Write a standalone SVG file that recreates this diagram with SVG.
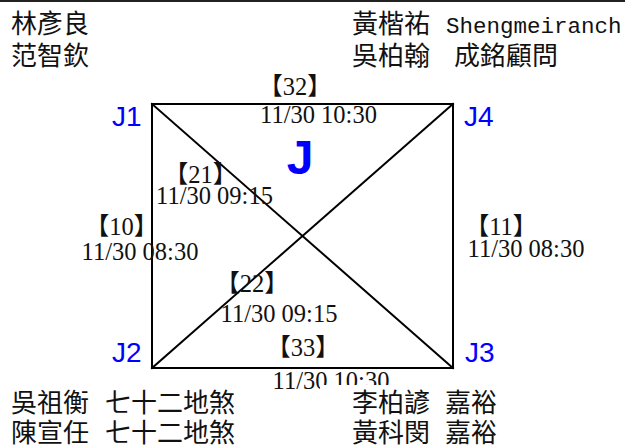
<svg xmlns="http://www.w3.org/2000/svg" width="625" height="447" viewBox="0 0 625 447">
<style>
.bg{fill:#ffffff}
.edge{stroke:#000;stroke-width:2;fill:none;stroke-linecap:square}
.node{font-family:"Liberation Sans",Arial,sans-serif;font-size:28px;fill:#0000ff}
.big{font-family:"Liberation Sans",Arial,sans-serif;font-size:48px;font-weight:bold;fill:#0000ff}
.lbl{font-family:"Liberation Serif","Noto Sans CJK TC",serif;font-size:24.5px;fill:#111;text-anchor:middle}
.name{font-family:"Noto Sans CJK TC","Noto Sans CJK SC",sans-serif;font-size:26px;fill:#111}
.mono{font-family:"Liberation Mono","Noto Sans CJK TC",monospace;font-size:22.5px}
</style>
<rect class="bg" x="0" y="0" width="625" height="447"/>
<line x1="0" y1="1" x2="625" y2="1" stroke="#222" stroke-width="2"/>

<g id="connectors">
  <line class="edge" x1="152" y1="104" x2="453" y2="104"/>
  <line class="edge" x1="152" y1="104" x2="152" y2="368"/>
  <line class="edge" x1="453" y1="104" x2="453" y2="368"/>
  <line class="edge" x1="152" y1="368" x2="453" y2="368"/>
  <line class="edge" x1="152" y1="104" x2="453" y2="368"/>
  <line class="edge" x1="152" y1="368" x2="453" y2="104"/>
</g>

<g id="edge-labels">
  <text class="lbl" x="295" y="95">【32】</text>
  <text class="lbl" x="318.5" y="123">11/30 10:30</text>
  <text class="lbl" x="200.5" y="183">【21】</text>
  <text class="lbl" x="214.5" y="204">11/30 09:15</text>
  <text class="lbl" x="121.5" y="235">【10】</text>
  <text class="lbl" x="140" y="260">11/30 08:30</text>
  <text class="lbl" x="501" y="235">【11】</text>
  <text class="lbl" x="526" y="257">11/30 08:30</text>
  <text class="lbl" x="252" y="292">【22】</text>
  <text class="lbl" x="279" y="322">11/30 09:15</text>
  <text class="lbl" x="303" y="356">【33】</text>
  <text class="lbl" x="331" y="389">11/30 10:30</text>
</g>

<g id="J">
  <text class="big" x="300" y="174" text-anchor="middle">J</text>
</g>
<g id="J1"><text class="node" x="112" y="126">J1</text></g>
<g id="J4"><text class="node" x="464" y="126">J4</text></g>
<g id="J2"><text class="node" x="112" y="362">J2</text></g>
<g id="J3"><text class="node" x="465" y="362">J3</text></g>

<g id="names-top-left">
  <text class="name" x="11" y="33">林彥良</text>
  <text class="name" x="11" y="65">范智欽</text>
</g>
<g id="names-top-right">
  <text class="name" x="352" y="33">黃楷祐<tspan class="mono" x="446">Shengmeiranch</tspan></text>
  <text class="name" x="352" y="65">吳柏翰<tspan x="454">成銘顧問</tspan></text>
</g>
<g id="names-bottom-left">
  <text class="name" x="11" y="412">吳祖衡<tspan x="105">七十二地煞</tspan></text>
  <text class="name" x="11" y="442">陳宣任<tspan x="105">七十二地煞</tspan></text>
</g>
<g id="names-bottom-right">
  <rect class="bg" x="320" y="385" width="305" height="62"/>
  <text class="name" x="352" y="412">李柏諺<tspan x="445">嘉裕</tspan></text>
  <text class="name" x="352" y="442">黃科閔<tspan x="445">嘉裕</tspan></text>
</g>
</svg>
